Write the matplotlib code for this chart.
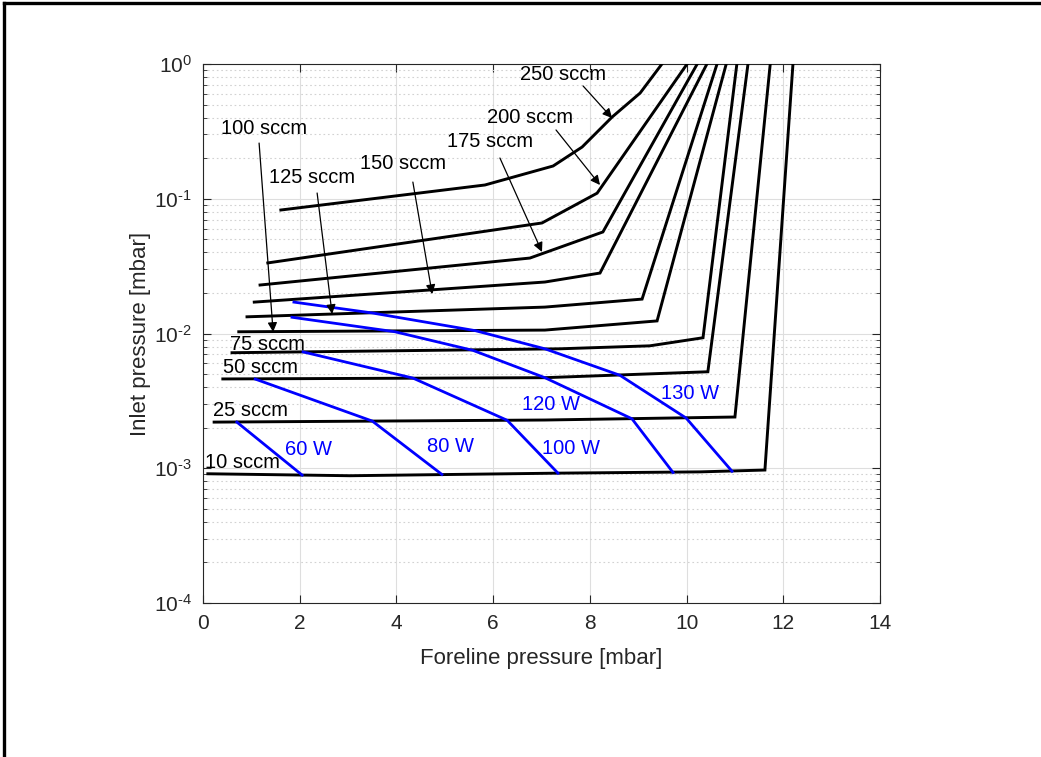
import matplotlib
matplotlib.use("Agg")
import matplotlib.pyplot as plt
from matplotlib.ticker import LogLocator, FixedLocator, NullFormatter, FuncFormatter
from matplotlib.lines import Line2D
import numpy as np

plt.rcParams['font.family'] = ['Liberation Sans', 'DejaVu Sans']
plt.rcParams['mathtext.fontset'] = 'custom'
plt.rcParams['mathtext.rm'] = 'Liberation Sans'
plt.rcParams['mathtext.it'] = 'Liberation Sans:italic'

# ---- data: gas-flow curves (foreline pressure [mbar], inlet pressure [mbar]) ----
s10_x = [0.10, 3.04, 7.38, 10.28, 11.62, 12.20]
s10_y = [0.00091, 0.00088, 0.00092, 0.00094, 0.00097, 1.0]
s25_x = [0.23, 7.07, 11.00, 11.73]
s25_y = [0.0022, 0.00228, 0.0024, 1.0]
s50_x = [0.41, 7.07, 10.44, 11.27]
s50_y = [0.0046, 0.0047, 0.0052, 1.0]
s75_x = [0.60, 7.38, 9.24, 10.34, 11.04]
s75_y = [0.0072, 0.0077, 0.0081, 0.0093, 1.0]
s100_x = [0.74, 7.07, 9.39, 10.82]
s100_y = [0.0103, 0.0106, 0.0124, 1.0]
s125_x = [0.91, 7.07, 9.08, 10.63]
s125_y = [0.0133, 0.0157, 0.0180, 1.0]
s150_x = [1.06, 7.07, 8.21, 10.42]
s150_y = [0.0171, 0.0241, 0.0281, 1.0]
s175_x = [1.18, 6.76, 8.27, 10.22]
s175_y = [0.0229, 0.0363, 0.0567, 1.0]
s200_x = [1.34, 7.01, 8.15, 10.01]
s200_y = [0.0334, 0.0661, 0.110, 1.0]
s250_x = [1.61, 5.83, 7.24, 7.84, 8.46, 9.04, 9.49]
s250_y = [0.0825, 0.1265, 0.175, 0.242, 0.404, 0.609, 1.0]

# ---- data: constant-power lines ----
w60_x = [0.70, 2.05]
w60_y = [0.0022, 0.00089]
w80_x = [1.08, 3.50, 4.94]
w80_y = [0.00459, 0.00224, 0.00090]
w100_x = [2.07, 4.34, 6.29, 7.34]
w100_y = [0.0073, 0.00467, 0.00227, 0.00092]
w120_x = [1.84, 3.97, 5.58, 7.07, 8.87, 9.72]
w120_y = [0.0132, 0.0103, 0.0075, 0.0047, 0.00233, 0.00093]
w130_x = [1.88, 3.50, 5.63, 7.07, 8.62, 9.99, 10.94]
w130_y = [0.0171, 0.0142, 0.0105, 0.0077, 0.0049, 0.00236, 0.00095]

flow_curves = [(s10_x, s10_y), (s25_x, s25_y), (s50_x, s50_y), (s75_x, s75_y),
               (s100_x, s100_y), (s125_x, s125_y), (s150_x, s150_y),
               (s175_x, s175_y), (s200_x, s200_y), (s250_x, s250_y)]
power_curves = [(w60_x, w60_y), (w80_x, w80_y), (w100_x, w100_y),
                (w120_x, w120_y), (w130_x, w130_y)]

# plain labels (text, x, y)
flow_text = [("75 sccm", 0.56, 0.00822), ("50 sccm", 0.41, 0.00564),
             ("25 sccm", 0.21, 0.0027), ("10 sccm", 0.04, 0.00111)]
power_text = [("60 W", 1.70, 0.00137), ("80 W", 4.63, 0.00146),
              ("100 W", 7.01, 0.00141), ("120 W", 6.60, 0.00295),
              ("130 W", 9.47, 0.00356)]
# arrow labels (text, text x, text y, tail x, tail y, tip x, tip y)
arrow_text = [("250 sccm", 7.44, 0.829, 7.86, 0.687, 8.46, 0.397),
              ("200 sccm", 6.76, 0.404, 7.30, 0.324, 8.21, 0.1265),
              ("175 sccm", 5.94, 0.264, 6.14, 0.2006, 7.01, 0.0403),
              ("150 sccm", 4.14, 0.184, 4.34, 0.133, 4.74, 0.0196),
              ("125 sccm", 2.25, 0.145, 2.36, 0.1103, 2.67, 0.01395),
              ("100 sccm", 1.26, 0.335, 1.16, 0.259, 1.45, 0.01026)]

W, H = 1041, 757
fig = plt.figure(figsize=(W / 100, H / 100), dpi=100)
ax = fig.add_axes([203 / W, 1 - 603 / H, (880 - 203) / W, (603 - 64) / H])

axcol = '#262626'
for x, y in flow_curves:
    ax.plot(x, y, color='k', lw=2.1, solid_joinstyle='miter', zorder=3)
for x, y in power_curves:
    ax.plot(x, y, color='#0000ff', lw=2.0, zorder=4)

fs = 14.5
for t, x, y in flow_text:
    ax.text(x, y, t, fontsize=fs, color='k', ha='left', va='center', zorder=5)
for t, x, y in power_text:
    ax.text(x, y, t, fontsize=fs, color='#0000ff', ha='left', va='center', zorder=5)
for t, tx, ty, ax0, ay0, ax1, ay1 in arrow_text:
    ax.text(tx, ty, t, fontsize=fs, color='k', ha='center', va='center', zorder=5)
    ax.annotate('', xy=(ax1, ay1), xytext=(ax0, ay0),
                arrowprops=dict(arrowstyle='-|>', color='k', lw=0.9,
                                mutation_scale=14, shrinkA=0, shrinkB=0),
                zorder=5)

ax.set_yscale('log')
ax.set_xlim(0, 14)
ax.set_ylim(1e-4, 1)
ax.xaxis.set_major_locator(FixedLocator([0, 2, 4, 6, 8, 10, 12, 14]))
ax.yaxis.set_major_locator(LogLocator(base=10, numticks=10))
ax.yaxis.set_minor_locator(LogLocator(base=10, subs=range(2, 10), numticks=20))
ax.yaxis.set_minor_formatter(NullFormatter())


def log_fmt(v, pos):
    e = int(round(np.log10(v)))
    return r'$\mathrm{10^{%s}}$' % ('\u2010%d' % -e if e < 0 else '%d' % e)


ax.yaxis.set_major_formatter(FuncFormatter(log_fmt))

ax.grid(True, which='major', color='#dedede', lw=0.8, ls='-')
ax.grid(True, which='minor', axis='y', color='#d2d2d2', lw=0.8, ls=(0, (1.5, 2.5)))
ax.set_axisbelow(True)

for s in ax.spines.values():
    s.set_color(axcol)
    s.set_linewidth(0.8)
ax.tick_params(which='both', direction='in', top=True, right=True, colors=axcol,
               labelcolor=axcol, labelsize=15)
ax.tick_params(which='major', length=6, width=0.8, pad=8)
ax.tick_params(which='minor', length=3, width=0.6)

ax.set_xlabel('Foreline pressure [mbar]', fontsize=16, color=axcol, labelpad=11)
ax.set_ylabel('Inlet pressure [mbar]', fontsize=16, color=axcol, labelpad=2)

# figure frame (left and top edges)
fig.add_artist(Line2D([4 / W, 4 / W], [0, 1 - 3 / H], color='k', lw=2.4,
                      transform=fig.transFigure))
fig.add_artist(Line2D([4 / W, 1], [1 - 3 / H, 1 - 3 / H], color='k', lw=2.4,
                      transform=fig.transFigure))

fig.savefig('out.png', dpi=100)
